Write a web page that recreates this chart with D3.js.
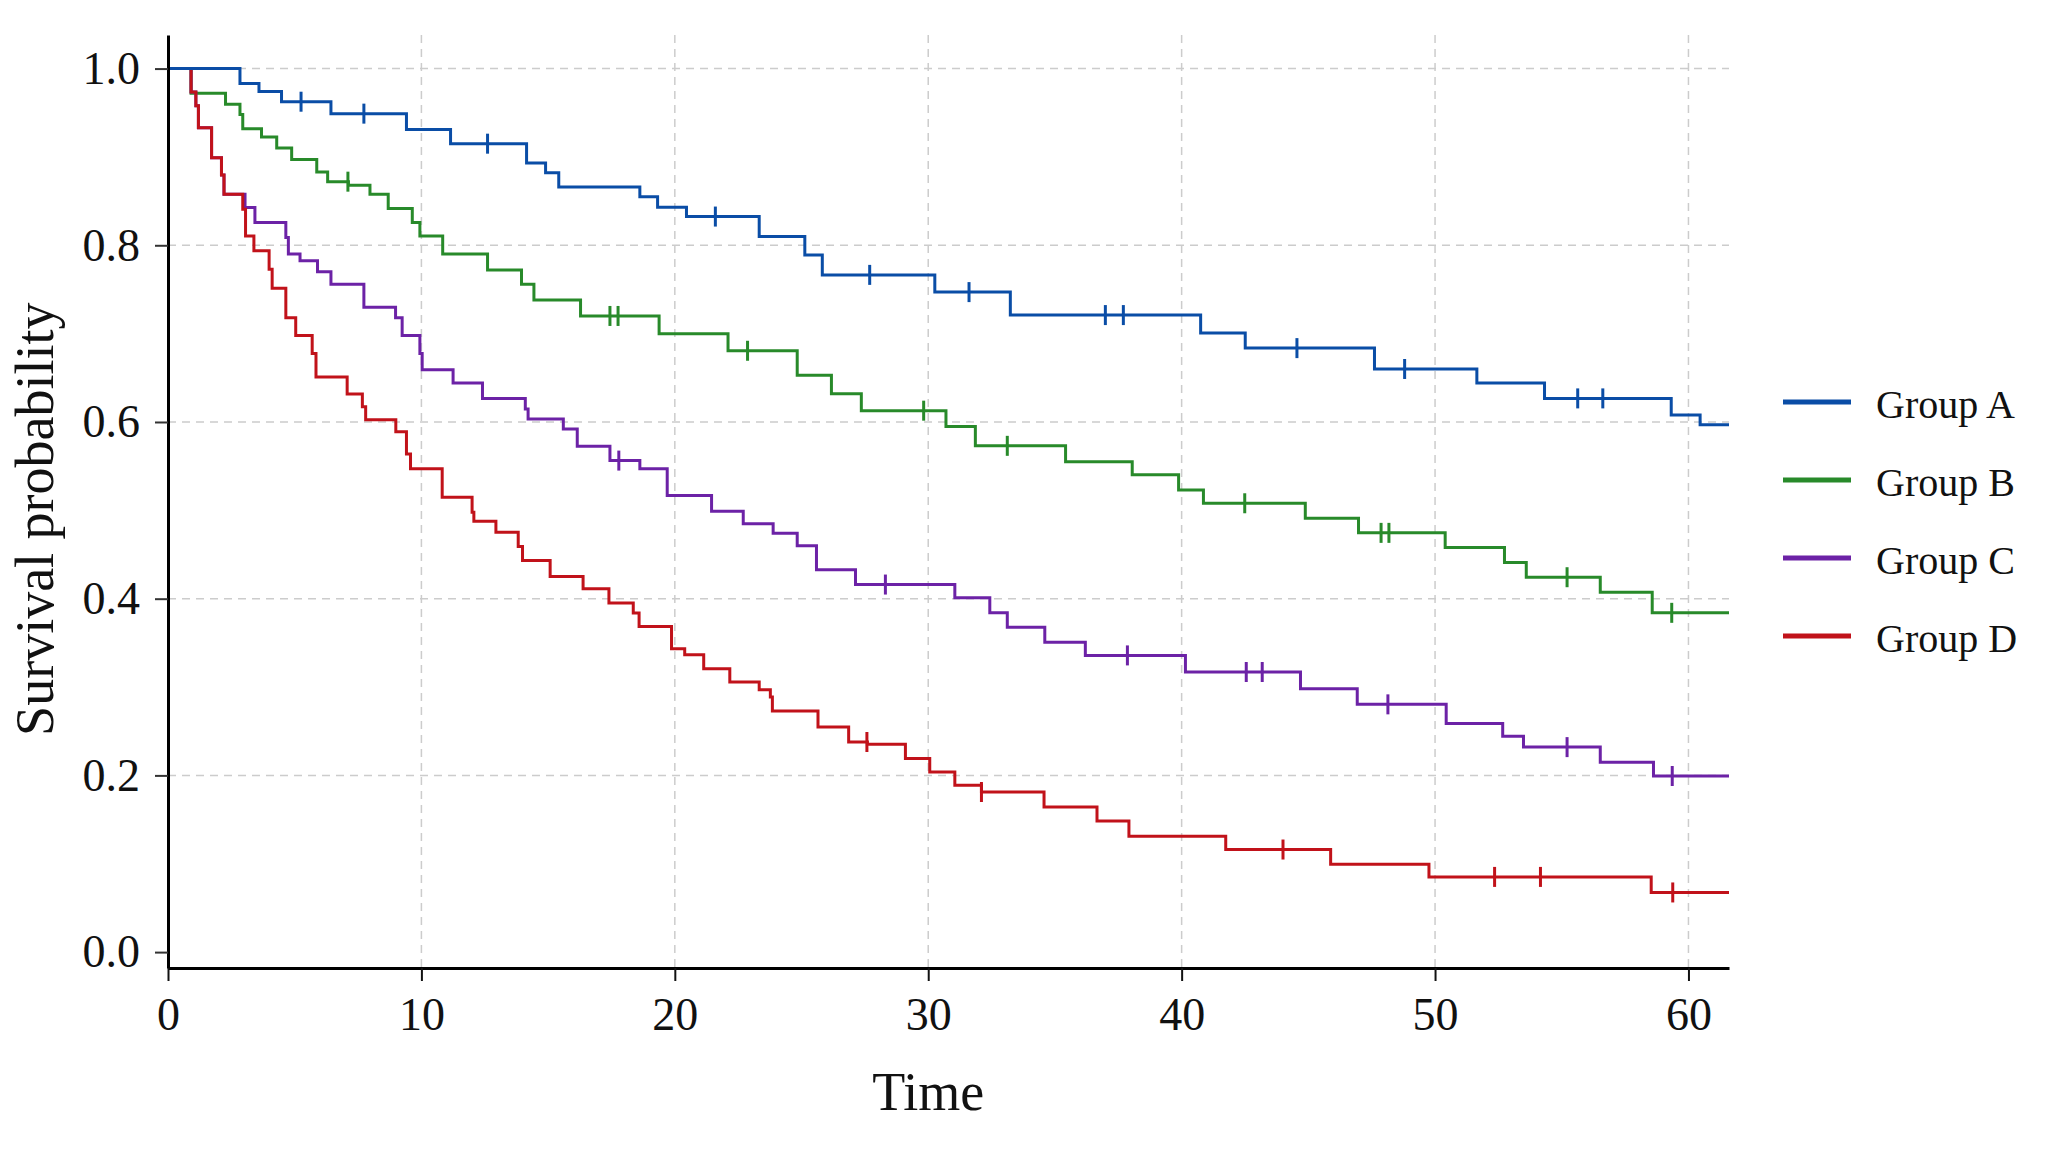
<!DOCTYPE html>
<html>
<head>
<meta charset="utf-8">
<script src="https://cdn.jsdelivr.net/npm/d3@7"></script>
<style>
  body { margin: 0; background: #ffffff; }
</style>
</head>
<body>
<div id="km"></div>
<script>
// grupe i boje
var groups = ["Group A", "Group B", "Group C", "Group D"];
var colors = ["#0a4da6", "#288a2a", "#6c22a6", "#c1121a"];

// Group A - vremena koraka, prezivljenje nakon koraka, cenzurirani
var timesA = [0, 2.84, 3.59, 4.48, 6.43, 9.41, 11.15, 14.15, 14.9, 15.42, 18.62, 19.32, 20.46, 23.33, 25.13, 25.82, 30.26, 33.24, 40.75, 42.51, 47.61, 51.65, 54.32, 59.32, 60.46];
var survA = [1.0, 0.983, 0.974, 0.9625, 0.949, 0.931, 0.915, 0.893, 0.882, 0.866, 0.855, 0.843, 0.8325, 0.810, 0.789, 0.7665, 0.747, 0.721, 0.7006, 0.6836, 0.660, 0.644, 0.6267, 0.608, 0.597];
var censA = [5.25, 7.73, 12.61, 21.6, 27.69, 31.61, 36.99, 37.70, 44.55, 48.8, 55.63, 56.62];

// Group B
var timesB = [0, 0.91, 2.27, 2.84, 2.95, 3.69, 4.29, 4.88, 5.87, 6.3, 7.12, 7.97, 8.69, 9.64, 9.94, 10.84, 12.61, 13.95, 14.44, 16.28, 19.38, 22.1, 24.83, 26.18, 27.36, 30.7, 31.86, 35.42, 38.05, 39.88, 40.86, 44.88, 46.98, 50.4, 52.74, 53.6, 56.52, 58.57];
var survB = [1.0, 0.972, 0.9595, 0.948, 0.932, 0.9225, 0.910, 0.897, 0.883, 0.872, 0.868, 0.8577, 0.8415, 0.8257, 0.8106, 0.790, 0.772, 0.756, 0.738, 0.720, 0.700, 0.6806, 0.653, 0.632, 0.6128, 0.595, 0.573, 0.555, 0.5404, 0.523, 0.508, 0.491, 0.4745, 0.458, 0.441, 0.4243, 0.4074, 0.384];
var censB = [7.1, 17.44, 17.76, 22.87, 29.82, 33.12, 42.49, 47.87, 48.18, 55.21, 59.34];

// Group C
var timesC = [0, 0.91, 1.1, 1.2, 1.72, 2.11, 2.21, 3.04, 3.43, 4.65, 4.75, 5.21, 5.9, 6.43, 7.73, 8.98, 9.24, 9.94, 10.03, 11.25, 12.41, 14.1, 14.21, 15.6, 16.15, 17.44, 18.62, 19.7, 21.45, 22.7, 23.88, 24.83, 25.59, 27.13, 31.05, 32.43, 33.12, 34.6, 36.2, 40.15, 44.69, 46.93, 50.44, 52.67, 53.49, 56.52, 58.62];
var survC = [1.0, 0.9735, 0.958, 0.933, 0.899, 0.8796, 0.8577, 0.8427, 0.8257, 0.8087, 0.790, 0.7824, 0.770, 0.756, 0.730, 0.718, 0.698, 0.6776, 0.659, 0.644, 0.6267, 0.6146, 0.6033, 0.592, 0.5724, 0.5563, 0.547, 0.5167, 0.499, 0.4847, 0.474, 0.460, 0.4327, 0.416, 0.401, 0.384, 0.3678, 0.3508, 0.3358, 0.317, 0.298, 0.2804, 0.2586, 0.2442, 0.232, 0.215, 0.1993];
var censC = [17.79, 28.31, 37.86, 42.55, 43.18, 48.14, 55.21, 59.36];

// Group D
var timesD = [0, 0.91, 1.1, 1.2, 1.72, 2.11, 2.21, 2.95, 3.06, 3.39, 3.99, 4.11, 4.65, 5.04, 5.69, 5.84, 7.07, 7.67, 7.8, 8.99, 9.41, 9.57, 10.82, 12.0, 12.07, 12.94, 13.82, 13.99, 15.08, 16.38, 17.4, 18.36, 18.59, 19.87, 20.39, 21.14, 22.17, 23.33, 23.77, 23.85, 25.65, 26.86, 27.6, 29.1, 30.06, 31.05, 32.1, 34.57, 36.66, 37.92, 41.74, 45.88, 49.76, 58.53];
var survD = [1.0, 0.9735, 0.958, 0.933, 0.899, 0.8796, 0.8577, 0.8408, 0.8106, 0.7937, 0.773, 0.7515, 0.718, 0.698, 0.6776, 0.651, 0.6316, 0.6173, 0.6026, 0.589, 0.5638, 0.547, 0.5148, 0.4978, 0.4876, 0.4752, 0.459, 0.4432, 0.4251, 0.4112, 0.395, 0.3837, 0.3686, 0.3434, 0.3366, 0.3207, 0.3056, 0.297, 0.2887, 0.2728, 0.2547, 0.2378, 0.2352, 0.219, 0.2038, 0.1888, 0.1812, 0.1643, 0.1484, 0.1311, 0.1161, 0.0995, 0.0851, 0.0675];
var censD = [27.58, 32.1, 44.0, 52.35, 54.16, 59.38];

// osi
var xTicks = [0, 10, 20, 30, 40, 50, 60];
var yTicks = [0.0, 0.2, 0.4, 0.6, 0.8, 1.0];
var tEnd = 61.6;

function crtajKM(){
    var width = 2048;
    var height = 1152;
    var margin = { top: 35, right: 319, bottom: 184, left: 168 };
    var font = "'Liberation Serif', 'Times New Roman', serif";

    var series = [
        { name: groups[0], color: colors[0], times: timesA, surv: survA, cens: censA },
        { name: groups[1], color: colors[1], times: timesB, surv: survB, cens: censB },
        { name: groups[2], color: colors[2], times: timesC, surv: survC, cens: censC },
        { name: groups[3], color: colors[3], times: timesD, surv: survD, cens: censD }
    ];

    var svg = d3
        .select("#km")
        .append("svg")
        .attr("width", width)
        .attr("height", height)
        .style("font-family", font);

    var x = d3.scaleLinear()
        .domain([0, tEnd])
        .range([margin.left, width - margin.right]);

    var y = d3.scaleLinear()
        .domain([-0.018, 1.038])
        .range([height - margin.bottom, margin.top]);

    // mreza
    svg.append("g")
        .selectAll("line")
        .data(yTicks.filter(d => d > 0))
        .enter()
        .append("line")
        .attr("x1", x(0))
        .attr("x2", x(tEnd))
        .attr("y1", d => y(d))
        .attr("y2", d => y(d))
        .attr("stroke", "#cccccc")
        .attr("stroke-width", 1.5)
        .attr("stroke-dasharray", "8,6");

    svg.append("g")
        .selectAll("line")
        .data(xTicks.filter(d => d > 0))
        .enter()
        .append("line")
        .attr("x1", d => x(d))
        .attr("x2", d => x(d))
        .attr("y1", margin.top)
        .attr("y2", height - margin.bottom)
        .attr("stroke", "#cccccc")
        .attr("stroke-width", 1.5)
        .attr("stroke-dasharray", "8,6");

    // krivulje (A zadnja, iznad ostalih)
    var line = d3.line()
        .x(d => x(d[0]))
        .y(d => y(d[1]))
        .curve(d3.curveStepAfter);

    var order = [1, 2, 3, 0];
    order.forEach(function(k){
        var s = series[k];
        var pts = s.times.map((t, i) => [t, s.surv[i]]);
        pts.push([tEnd, s.surv[s.surv.length - 1]]);

        svg.append("path")
            .datum(pts)
            .attr("fill", "none")
            .attr("stroke", s.color)
            .attr("stroke-width", 3)
            .attr("d", line);

        // cenzurirane oznake
        function survAt(t){
            var v = s.surv[0];
            s.times.forEach((tt, i) => { if (tt <= t) v = s.surv[i]; });
            return v;
        }
        svg.append("g")
            .selectAll("line")
            .data(s.cens)
            .enter()
            .append("line")
            .attr("x1", d => x(d))
            .attr("x2", d => x(d))
            .attr("y1", d => y(survAt(d)) - 10)
            .attr("y2", d => y(survAt(d)) + 10)
            .attr("stroke", s.color)
            .attr("stroke-width", 3);
    });

    // y os
    var yAxis = svg.append("g")
        .attr("transform", "translate(" + x(0) + ",0)")
        .call(d3.axisLeft(y)
            .tickValues(yTicks)
            .tickFormat(d3.format(".1f"))
            .tickSize(13)
            .tickSizeOuter(0)
            .tickPadding(15));
    yAxis.select(".domain").attr("stroke", "#000").attr("stroke-width", 3);
    yAxis.selectAll(".tick line").attr("stroke", "#333").attr("stroke-width", 2);
    yAxis.selectAll("text")
        .style("font-family", font)
        .style("font-size", "46px")
        .attr("fill", "#111");

    // x os
    var xAxis = svg.append("g")
        .attr("transform", "translate(0," + (height - margin.bottom) + ")")
        .call(d3.axisBottom(x)
            .tickValues(xTicks)
            .tickFormat(d3.format("d"))
            .tickSize(13)
            .tickSizeOuter(0)
            .tickPadding(16));
    xAxis.select(".domain").attr("stroke", "#000").attr("stroke-width", 3);
    xAxis.selectAll(".tick line").attr("stroke", "#111").attr("stroke-width", 2);
    xAxis.selectAll("text")
        .style("font-family", font)
        .style("font-size", "46px")
        .attr("fill", "#111");

    // naslovi osi
    svg.append("text")
        .attr("x", (x(0) + x(60)) / 2)
        .attr("y", 1110)
        .style("text-anchor", "middle")
        .style("font-size", "54px")
        .attr("fill", "#111")
        .text("Time");

    svg.append("text")
        .attr("transform", "translate(53," + y(0.49) + ") rotate(-90)")
        .style("text-anchor", "middle")
        .style("font-size", "54px")
        .attr("fill", "#111")
        .text("Survival probability");

    // legenda
    var legend = svg.append("g")
        .attr("transform", "translate(1783,402)");

    var item = legend.selectAll("g")
        .data(series)
        .enter()
        .append("g")
        .attr("transform", (d, i) => "translate(0," + (i * 78) + ")");

    item.append("line")
        .attr("x1", 0)
        .attr("x2", 68)
        .attr("stroke", d => d.color)
        .attr("stroke-width", 5);

    item.append("text")
        .attr("x", 93)
        .attr("y", 16)
        .style("font-size", "40px")
        .attr("fill", "#111")
        .text(d => d.name);
}
crtajKM();
</script>
</body>
</html>
